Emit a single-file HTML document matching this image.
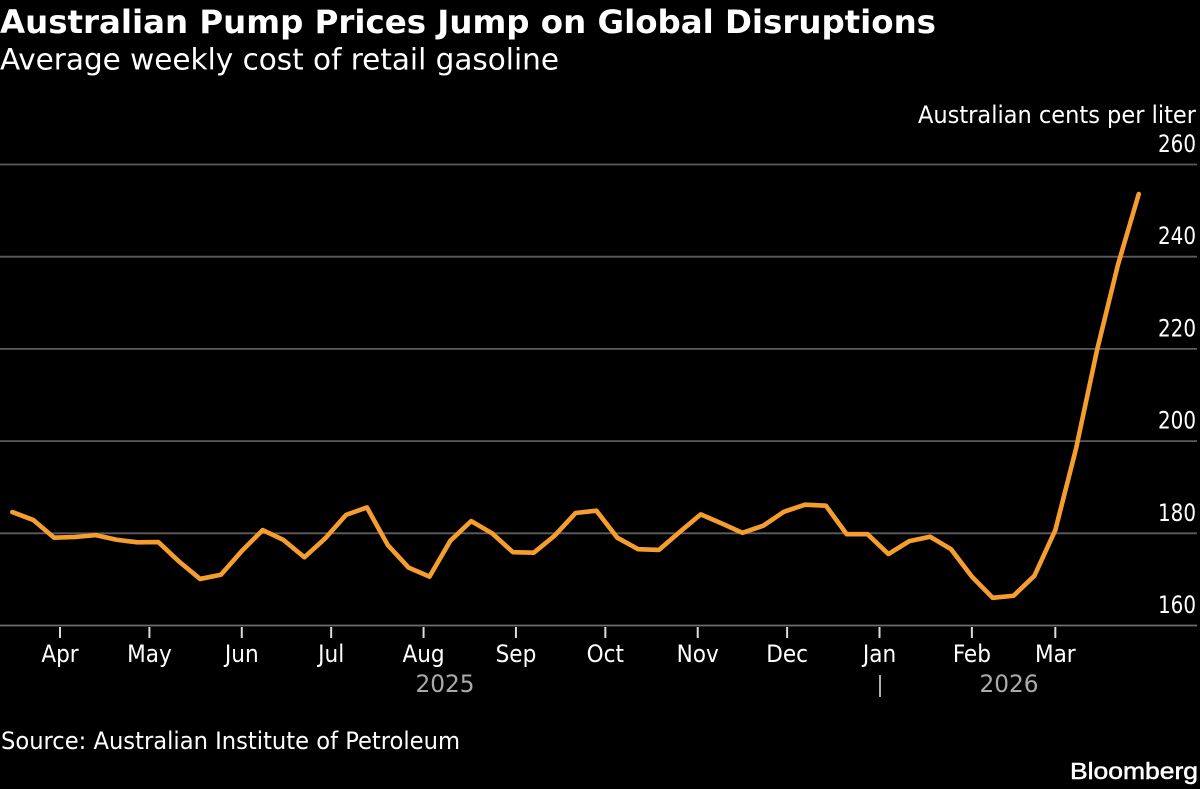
<!DOCTYPE html>
<html lang="en">
<head>
<meta charset="utf-8">
<title>Australian Pump Prices Jump on Global Disruptions</title>
<style>
html,body{margin:0;padding:0;background:#000;width:1200px;height:789px;overflow:hidden}
svg{display:block}
text{font-family:"DejaVu Sans","Liberation Sans",sans-serif;font-stretch:condensed;fill:#fff}
</style>
</head>
<body>
<svg id="chart" width="1200" height="789" viewBox="0 0 1200 789" xmlns="http://www.w3.org/2000/svg">
<rect x="0" y="0" width="1200" height="789" fill="#000"/>
<text x="0" y="33" font-size="32" font-weight="700" textLength="936" lengthAdjust="spacingAndGlyphs">Australian Pump Prices Jump on Global Disruptions</text>
<text x="0" y="69.5" font-size="29" textLength="559" lengthAdjust="spacingAndGlyphs">Average weekly cost of retail gasoline</text>
<text x="918" y="123" font-size="24" textLength="278" lengthAdjust="spacingAndGlyphs">Australian cents per liter</text>
<g id="grid"></g>
<g id="xaxis"></g>
<path id="line" fill="none" stroke="#f59e2e" stroke-width="4.6" stroke-linejoin="round" stroke-linecap="round"></path>
<text x="445" y="692" font-size="24" text-anchor="middle" style="fill:#aaa" textLength="59" lengthAdjust="spacingAndGlyphs">2025</text>
<text x="1009" y="692" font-size="24" text-anchor="middle" style="fill:#aaa" textLength="59" lengthAdjust="spacingAndGlyphs">2026</text>
<line x1="880" x2="880" y1="675" y2="697" stroke="#b0b0b0" stroke-width="2"/>
<text x="1" y="749" font-size="24" textLength="459" lengthAdjust="spacingAndGlyphs">Source: Australian Institute of Petroleum</text>
<text x="1070" y="779" font-size="23" font-weight="400" stroke="#fff" stroke-width="0.5" textLength="128" lengthAdjust="spacingAndGlyphs" style="font-family:'Liberation Sans',sans-serif;font-stretch:normal">Bloomberg</text>
</svg>
<script>
const firstWeek = "2025-03-16";
const priceValues = [
184.6,182.9,179.05,179.2,179.6,178.6,178.05,178.1,173.85,170.1,171.0,176.15,180.7,178.55,174.8,178.9,184.0,185.6,177.45,172.55,170.6,178.4,182.65,180.0,175.9,175.8,179.5,184.4,184.9,179.05,176.55,176.4,180.3,184.1,182.15,180.1,181.65,184.7,186.2,186.0,179.8,179.8,175.5,178.3,179.25,176.55,170.6,166.0,166.45,170.8,180.7,198.5,219.75,238.2,253.6
];
const yTicks = [160,180,200,220,240,260];
const monthLabels = ["Apr","May","Jun","Jul","Aug","Sep","Oct","Nov","Dec","Jan","Feb","Mar"];
const monthDates = ["2025-04-01","2025-05-01","2025-06-01","2025-07-01","2025-08-01","2025-09-01","2025-10-01","2025-11-01","2025-12-01","2026-01-01","2026-02-01","2026-03-01"];

const NS = "http://www.w3.org/2000/svg";
const DAY = 86400000;
const originTime = Date.parse("2025-04-01T00:00:00Z");
function xScale(time){ return 60 + (time - originTime) / DAY * 2.98; }
function yScale(v){ return 625.5 - (v - 160) * 4.61; }

const grid = document.getElementById("grid");
yTicks.forEach(function(t){
  const y = yScale(t);
  const l = document.createElementNS(NS, "line");
  
  
  l.setAttribute("x1", 0); l.setAttribute("x2", 1197);
  l.setAttribute("y1", y); l.setAttribute("y2", y);
  l.setAttribute("stroke", t === 160 ? "#6e6e6e" : "#5c5c5c");
  l.setAttribute("stroke-width", 1.8);
  grid.appendChild(l);
  const s = document.createElementNS(NS, "text");
  
  
  s.setAttribute("x", 1158); s.setAttribute("y", y - 12.5);
  s.setAttribute("font-size", 24);
  s.setAttribute("textLength", 38);
  s.setAttribute("lengthAdjust", "spacingAndGlyphs");
  s.textContent = String(t);
  grid.appendChild(s);
});

const xaxis = document.getElementById("xaxis");
monthLabels.forEach(function(m, i){
  const x = xScale(Date.parse(monthDates[i] + "T00:00:00Z"));
  const l = document.createElementNS(NS, "line");
  
  
  l.setAttribute("x1", x); l.setAttribute("x2", x);
  l.setAttribute("y1", 627); l.setAttribute("y2", 638);
  l.setAttribute("stroke", "#ddd");
  l.setAttribute("stroke-width", 2);
  xaxis.appendChild(l);
  const s = document.createElementNS(NS, "text");
  
  
  s.setAttribute("x", x); s.setAttribute("y", 662);
  s.setAttribute("font-size", 24);
  s.setAttribute("text-anchor", "middle");
  s.textContent = m;
  xaxis.appendChild(s);
});

const t0 = Date.parse(firstWeek + "T00:00:00Z");
const d = priceValues.map(function(v, i){
  return (i ? "L" : "M") + xScale(t0 + i * 7 * DAY).toFixed(2) + " " + yScale(v).toFixed(2);
}).join(" ");
document.getElementById("line").setAttribute("d", d);
</script>
</body>
</html>
